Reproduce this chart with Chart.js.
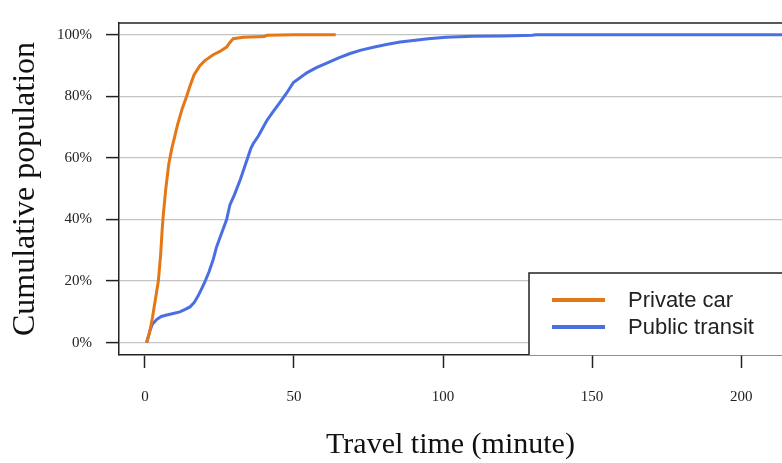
<!DOCTYPE html>
<html>
<head>
<meta charset="utf-8">
<script src="https://cdn.jsdelivr.net/npm/chart.js@4"></script>
<style>
  html, body { margin: 0; padding: 0; background: #fff; }
  #wrap { width: 782px; height: 463px; }
</style>
</head>
<body>
<div id="wrap"><canvas id="grafico" width="782" height="463"></canvas></div>
<script>
// datos (minutos, % acumulado)
const seriesNames = ['Private car', 'Public transit'];
const carTime  = [0.5, 1.5, 2.5, 3.5, 4.5, 5.3, 5.8, 6.2, 7, 8, 9, 10, 11, 12.5, 14, 15, 16.5, 18.5, 20, 22.9, 25, 27.4, 28.5, 29.6, 33, 40, 41, 50, 64];
const carShare = [0, 3, 8, 14, 20, 29, 37, 42, 50, 58, 63, 67, 71, 76, 80, 83, 87, 90, 91.5, 93.5, 94.5, 96, 97.5, 98.7, 99.2, 99.4, 99.8, 100, 100];
const transitTime  = [0.6, 1, 1.7, 2.5, 3.9, 5.5, 7.3, 9.5, 11.7, 13.5, 15.1, 16.5, 17.9, 19, 20.1, 21.5, 22.9, 24, 25.5, 27.4, 28.5, 30, 32, 34.1, 35.5, 36.3, 38, 40.8, 43, 45.3, 47.5, 49.8, 52, 54.3, 57.5, 61, 65, 68.8, 72.5, 77, 81, 85.6, 90, 95, 101, 110, 120, 130, 131, 220];
const transitShare = [0, 1.5, 4, 6, 7.5, 8.5, 9, 9.5, 10, 10.8, 11.6, 13, 15.3, 17.5, 19.7, 23, 27, 31, 35, 40, 44.7, 48, 53, 59, 63, 64.6, 67, 72, 75, 78, 81, 84.5, 86, 87.6, 89.3, 90.8, 92.5, 93.9, 95, 96, 96.8, 97.6, 98.1, 98.7, 99.2, 99.5, 99.6, 99.8, 100, 100];
const xTicks = [0, 50, 100, 150, 200];
const yTicks = [0, 20, 40, 60, 80, 100];

const colores = ['#E57716', '#4A6FE3'];

function puntos(xs, ys) {
  return xs.map((x, i) => ({ x: x, y: ys[i] }));
}

// marco superior y leyenda con recuadro
const marcoYLeyenda = {
  id: 'marcoYLeyenda',
  afterDraw(chart) {
    const ctx = chart.ctx;
    const a = chart.chartArea;
    ctx.save();
    ctx.strokeStyle = '#222';
    ctx.lineWidth = 1.5;
    ctx.beginPath();
    ctx.moveTo(a.left, a.top);
    ctx.lineTo(a.right + 2, a.top);
    ctx.stroke();

    // leyenda
    const bx = 529, by = 273;
    ctx.fillStyle = '#fff';
    ctx.fillRect(bx, by, a.right - bx + 2, a.bottom - by);
    ctx.beginPath();
    ctx.moveTo(a.right + 2, by);
    ctx.lineTo(bx, by);
    ctx.lineTo(bx, a.bottom);
    ctx.stroke();

    ctx.font = '22px "Liberation Sans", Arial, sans-serif';
    ctx.textBaseline = 'middle';
    ctx.textAlign = 'left';
    seriesNames.forEach((name, i) => {
      const y = 300 + i * 27;
      ctx.strokeStyle = colores[i];
      ctx.lineWidth = 4;
      ctx.beginPath();
      ctx.moveTo(552, y);
      ctx.lineTo(605, y);
      ctx.stroke();
      ctx.fillStyle = '#222';
      ctx.fillText(name, 628, y + 1);
    });
    ctx.restore();
  }
};

const serif = '"Liberation Serif", "Times New Roman", serif';

const grafico = new Chart(document.getElementById('grafico').getContext('2d'), {
  type: 'line',
  data: {
    datasets: [
      {
        label: seriesNames[0],
        data: puntos(carTime, carShare),
        borderColor: colores[0],
        borderWidth: 3,
        pointRadius: 0,
        tension: 0
      },
      {
        label: seriesNames[1],
        data: puntos(transitTime, transitShare),
        borderColor: colores[1],
        borderWidth: 3,
        pointRadius: 0,
        tension: 0
      }
    ]
  },
  options: {
    responsive: false,
    animation: false,
    layout: { padding: { top: 12, left: 0, right: 0, bottom: 0 } },
    plugins: {
      legend: { display: false },
      tooltip: { enabled: false }
    },
    scales: {
      x: {
        type: 'linear',
        min: -8.7,
        max: 213.7,
        afterFit: s => { s.height = 108; },
        afterBuildTicks: s => { s.ticks = xTicks.map(v => ({ value: v })); },
        grid: { drawOnChartArea: false, drawTicks: true, tickLength: 13, tickColor: '#222', tickWidth: 1.5 },
        border: { display: true, color: '#222', width: 1.5 },
        ticks: {
          padding: 20,
          color: '#222',
          maxRotation: 0,
          font: { family: serif, size: 15 }
        },
        title: {
          display: true,
          text: 'Travel time (minute)',
          color: '#111',
          font: { family: serif, size: 30 },
          padding: { top: 0, bottom: 0 }
        }
      },
      y: {
        type: 'linear',
        min: -4,
        max: 103.8,
        afterFit: s => { s.width = 119; },
        afterBuildTicks: s => { s.ticks = yTicks.map(v => ({ value: v })); },
        grid: { color: '#c4c4c4', lineWidth: 1.2, tickLength: 13, tickColor: '#222', tickWidth: 1.5 },
        border: { display: true, color: '#222', width: 1.5 },
        ticks: {
          padding: 14,
          color: '#222',
          font: { family: serif, size: 15 },
          callback: v => v + '%'
        },
        title: {
          display: true,
          text: 'Cumulative population',
          color: '#111',
          font: { family: serif, size: 32 },
          padding: { top: 6, bottom: 0 }
        }
      }
    }
  },
  plugins: [marcoYLeyenda]
});
</script>
</body>
</html>
